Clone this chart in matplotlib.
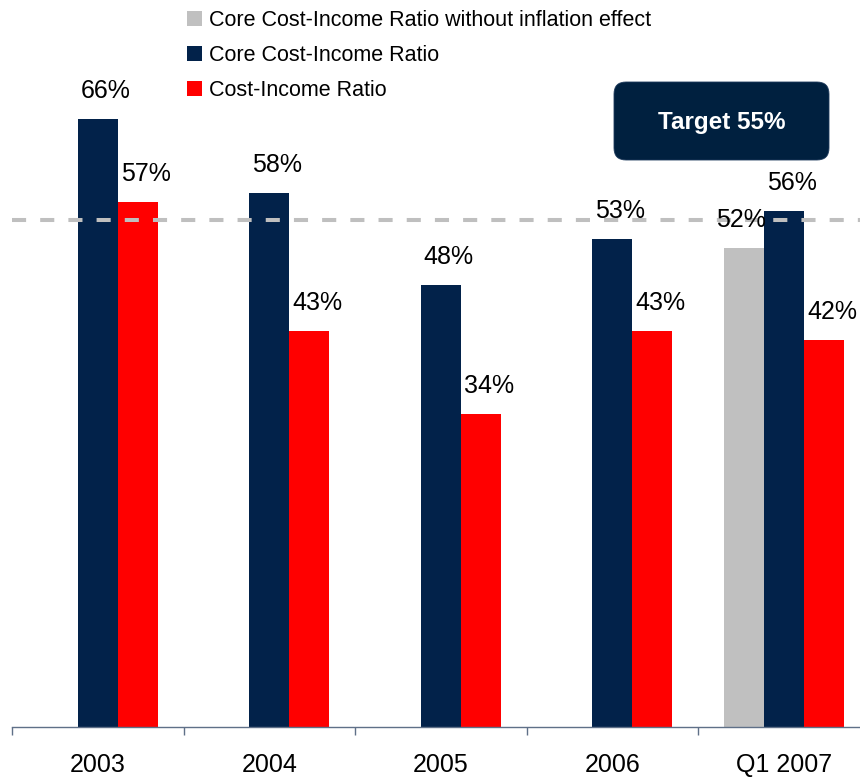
import matplotlib
matplotlib.use("Agg")
import matplotlib.pyplot as plt
import numpy as np
from matplotlib.patches import FancyBboxPatch
from matplotlib.transforms import IdentityTransform

plt.rcParams['font.family'] = ['Liberation Sans', 'DejaVu Sans']

categories = ['2003', '2004', '2005', '2006', 'Q1 2007']
core_no_inflation = [None, None, None, None, 52]
core_cir = [66, 58, 48, 53, 56]
cir = [57, 43, 34, 43, 42]
target = 55

navy = '#02224A'
red = '#FF0000'
grey = '#C0C0C0'

W, H = 860, 778
fig = plt.figure(figsize=(W / 100, H / 100), dpi=100)
# axes spans from the left tick to the right edge, baseline at y=727px
px_per_pct = 9.21
ax = fig.add_axes([12 / W, (H - 727) / H, 1 - 12 / W, 70 * px_per_pct / H])

barWidth = 0.233
x = np.arange(len(categories))

g_x = [xi - barWidth for xi, v in zip(x, core_no_inflation) if v is not None]
g_v = [v for v in core_no_inflation if v is not None]
b_grey = ax.bar(g_x, g_v, width=barWidth, color=grey, zorder=2,
                label='Core Cost-Income Ratio without inflation effect')
b_navy = ax.bar(x, core_cir, width=barWidth, color=navy, zorder=2,
                label='Core Cost-Income Ratio')
b_red = ax.bar(x + barWidth, cir, width=barWidth, color=red, zorder=2,
               label='Cost-Income Ratio')

# value labels above the bars
for bars, vals, dx in [(b_grey, g_v, -3), (b_navy, core_cir, 8), (b_red, cir, 8)]:
    for rect, v in zip(bars, vals):
        ax.annotate(f'{v}%', (rect.get_x() + rect.get_width() / 2, v),
                    xytext=(dx, 28), textcoords='offset pixels',
                    ha='center', va='center', fontsize=18, color='black', zorder=6)

# target line
ax.axhline(target, color='#BFBFBF', lw=2.9, linestyle=(0, (3.5, 3.5)), zorder=5)

ax.set_xlim(-0.5, (W - 98) / 171.5)
ax.set_ylim(0, 70)
ax.set_yticks([])
for s in ['left', 'top', 'right']:
    ax.spines[s].set_visible(False)
ax.spines['bottom'].set_color('#5F7088')
ax.spines['bottom'].set_linewidth(1)

ax.set_xticks(np.arange(-0.5, len(categories) - 0.5, 1.0))
ax.set_xticklabels([])
ax.tick_params(axis='x', which='major', direction='out', length=6, width=1, color='#5F7088')
ax.set_xticks(x, categories, minor=True)
ax.tick_params(axis='x', which='minor', length=0, pad=19, labelsize=18)

# legend
leg = fig.legend(handles=[b_grey, b_navy, b_red], loc='upper left',
                 bbox_to_anchor=(187 / W, 1 - 10 / H), frameon=False,
                 fontsize=15.5, handlelength=0.7, handleheight=0.7,
                 handletextpad=0.3, labelspacing=0.65, borderpad=0, borderaxespad=0)

# target box
box = FancyBboxPatch((614, H - 160), 215, 78, boxstyle='round,pad=0,rounding_size=12',
                     transform=IdentityTransform(), facecolor='#00203F',
                     edgecolor='#1E3A5C', lw=0.6)
fig.add_artist(box)
fig.text(722 / W, 1 - 122 / H, 'Target 55%', ha='center', va='center',
         fontsize=17.5, fontweight='bold', color='white')

fig.savefig('out.png', dpi=100)
